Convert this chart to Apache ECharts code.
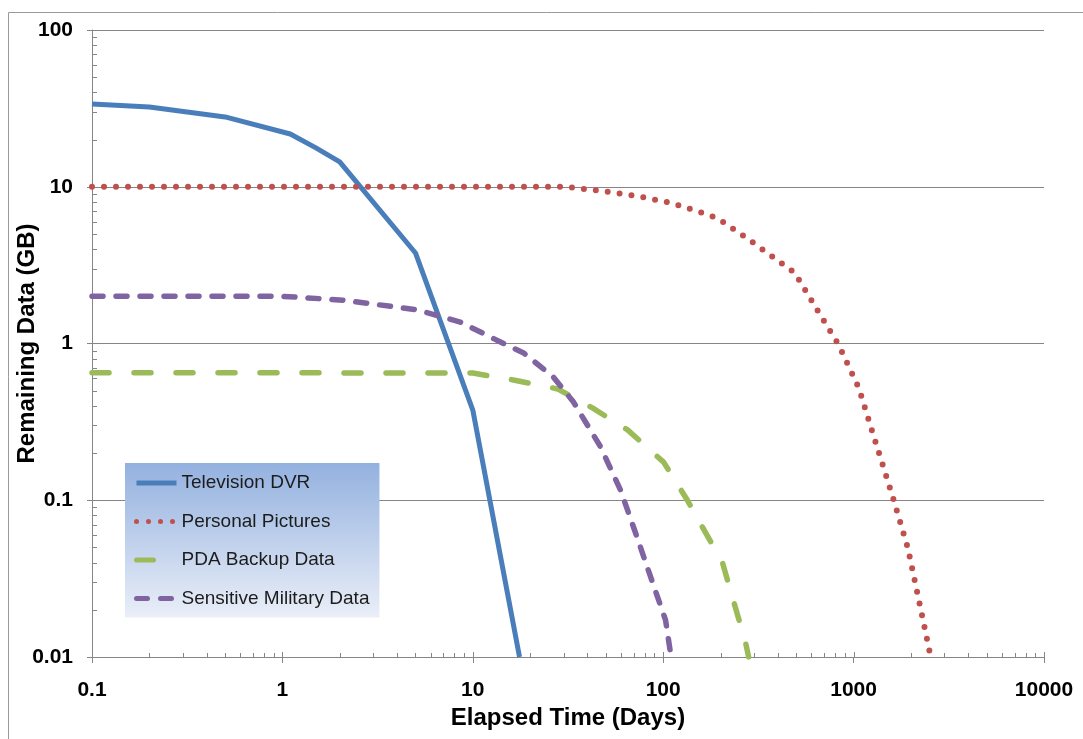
<!DOCTYPE html>
<html><head><meta charset="utf-8">
<script src="https://cdn.jsdelivr.net/npm/echarts@6/dist/echarts.min.js"></script>
<style>html,body{margin:0;padding:0;background:#fff}#c{width:1083px;height:739px}</style>
</head><body><div id="c"></div>
<script>
// ---- data ----
const xTickLabels = ['0.1', '1', '10', '100', '1000', '10000'];
const yTickLabels = ['0.01', '0.1', '1', '10', '100'];
const minorSteps = [2, 3, 4, 5, 6, 7, 8, 9];
const seriesNames = ['Television DVR', 'Personal Pictures', 'PDA Backup Data', 'Sensitive Military Data'];
const tvDVR = [[0.1, 33.7], [0.2, 32.3], [0.5, 27.9], [1.1, 21.7], [1.5, 17.7], [2, 14.4], [5, 3.78], [10, 0.376], [17.6, 0.01]];
const personalPictures = [[0.1, 10], [1, 10], [10, 10], [30.7, 10], [47.5, 9.4], [72.4, 8.73], [110.7, 7.88], [167, 6.7], [193, 6.3], [274.5, 4.71], [390, 3.46], [491, 2.82], [664, 1.54], [836, 0.978], [1065, 0.52], [1261, 0.268], [1626, 0.1], [1927, 0.0496], [2368, 0.0151], [2540, 0.01]];
const pdaBackup = [[0.1, 0.65], [1, 0.65], [10, 0.648], [16.35, 0.585], [27.9, 0.513], [42.5, 0.388], [65, 0.281], [100.5, 0.175], [134, 0.1], [205, 0.0398], [271, 0.0123], [281, 0.01]];
const sensitiveMilitary = [[0.1, 2.0], [1, 2.0], [2.09, 1.89], [5.11, 1.64], [8.6, 1.37], [14.5, 1.0], [18.5, 0.87], [26.5, 0.611], [33.8, 0.423], [46.9, 0.219], [59.7, 0.116], [71.6, 0.0618], [85.9, 0.0324], [102.9, 0.0172], [110, 0.01]];

// ---- helpers ----
const FONT = "'Liberation Sans', Arial, sans-serif";
const xMin = +xTickLabels[0], xMax = +xTickLabels[xTickLabels.length - 1];
const yMin = +yTickLabels[0], yMax = +yTickLabels[yTickLabels.length - 1];
function lookup(labels, v) {
  const f = labels.find(s => Math.abs(Math.log10(+s) - Math.log10(v)) < 1e-6);
  return f === undefined ? '' : f;
}
const xTickData = [];
xTickLabels.forEach((s, i) => {
  xTickData.push([+s, yMin, 5]);
  if (i < xTickLabels.length - 1) minorSteps.forEach(k => xTickData.push([+s * k, yMin, 4]));
});
const yTickData = [];
yTickLabels.forEach((s, i) => {
  if (i < yTickLabels.length - 1) minorSteps.forEach(k => yTickData.push([xMin, +s * k, 5]));
});
const TICK = '#868686';

const chart = echarts.init(document.getElementById('c'), null, { renderer: 'canvas' });
const lineBase = { type: 'line', symbol: 'none', showSymbol: false, smooth: false, z: 3, clip: true };
chart.setOption({
  animation: false,
  backgroundColor: '#ffffff',
  textStyle: { fontFamily: FONT },
  graphic: [{
    type: 'rect', silent: true, z: -10,
    shape: { x: 8.5, y: 12.5, width: 1090, height: 800 },
    style: { fill: 'none', stroke: '#9a9a9a', lineWidth: 1 }
  }],
  grid: { left: 92, top: 30, right: 39, bottom: 82, containLabel: false, outerBoundsMode: 'none' },
  legend: {
    orient: 'vertical', left: 125, top: 463,
    padding: [10, 10, 9, 9],
    itemWidth: 40, itemHeight: 14, itemGap: 18.5,
    data: seriesNames,
    backgroundColor: {
      type: 'linear', x: 0, y: 0, x2: 0, y2: 1,
      colorStops: [{ offset: 0, color: '#93B1DF' }, { offset: 1, color: '#EAEFF8' }]
    },
    itemStyle: { opacity: 0 },
    lineStyle: { width: 5 },
    textStyle: { fontFamily: FONT, fontSize: 19, color: '#1c1c1c', lineHeight: 20 }
  },
  xAxis: {
    type: 'log', logBase: 10, min: xMin, max: xMax,
    name: 'Elapsed Time (Days)', nameLocation: 'middle', nameGap: 49, nameMoveOverlap: false,
    nameTextStyle: { fontFamily: FONT, fontSize: 24, fontWeight: 'bold', color: '#000' },
    axisLine: { show: true, lineStyle: { color: TICK, width: 1 } },
    axisTick: { show: true, inside: false, length: 6, lineStyle: { color: TICK } },
    axisLabel: { margin: 23, fontFamily: FONT, fontSize: 21, fontWeight: 'bold', color: '#000',
      formatter: v => lookup(xTickLabels, v) },
    splitLine: { show: false }
  },
  yAxis: {
    type: 'log', logBase: 10, min: yMin, max: yMax,
    name: 'Remaining Data (GB)', nameLocation: 'middle', nameGap: 53, nameRotate: 90, nameMoveOverlap: false,
    nameTextStyle: { fontFamily: FONT, fontSize: 24, fontWeight: 'bold', color: '#000' },
    axisLine: { show: true, lineStyle: { color: TICK, width: 1 } },
    axisTick: { show: true, inside: false, length: 5, lineStyle: { color: TICK } },
    axisLabel: { margin: 19, fontFamily: FONT, fontSize: 21, fontWeight: 'bold', color: '#000',
      formatter: v => lookup(yTickLabels, v) },
    splitLine: { show: true, lineStyle: { color: TICK, width: 1 } }
  },
  series: [
    Object.assign({}, lineBase, { name: seriesNames[0], data: tvDVR,
      itemStyle: { color: '#4A7EBB' },
      lineStyle: { color: '#4A7EBB', width: 5, type: 'solid', cap: 'butt', join: 'round' } }),
    Object.assign({}, lineBase, { name: seriesNames[1], data: personalPictures,
      itemStyle: { color: '#C0504D' },
      lineStyle: { color: '#C0504D', width: 6, type: [0, 12], cap: 'round', join: 'round' } }),
    Object.assign({}, lineBase, { name: seriesNames[2], data: pdaBackup,
      itemStyle: { color: '#9BBB59' },
      lineStyle: { color: '#9BBB59', width: 5.5, type: [17, 25], cap: 'round', join: 'round' } }),
    Object.assign({}, lineBase, { name: seriesNames[3], data: sensitiveMilitary,
      itemStyle: { color: '#8064A2' },
      lineStyle: { color: '#8064A2', width: 5.5, type: [11, 13], cap: 'round', join: 'round' } }),
    {
      type: 'custom', coordinateSystem: 'cartesian2d', silent: true, clip: false, z: 2,
      data: xTickData, encode: { x: 0, y: 1 },
      renderItem: (params, api) => {
        const p = api.coord([api.value(0), api.value(1)]);
        const x = Math.round(p[0]) + 0.5, y = Math.round(p[1]);
        return { type: 'line', shape: { x1: x, y1: y, x2: x, y2: y - api.value(2) },
          style: { stroke: TICK, lineWidth: 1 } };
      }
    },
    {
      type: 'custom', coordinateSystem: 'cartesian2d', silent: true, clip: false, z: 2,
      data: yTickData, encode: { x: 0, y: 1 },
      renderItem: (params, api) => {
        const p = api.coord([api.value(0), api.value(1)]);
        const x = Math.round(p[0]), y = Math.round(p[1]) + 0.5;
        return { type: 'line', shape: { x1: x, y1: y, x2: x + api.value(2), y2: y },
          style: { stroke: TICK, lineWidth: 1 } };
      }
    }
  ]
});
</script>
</body></html>
